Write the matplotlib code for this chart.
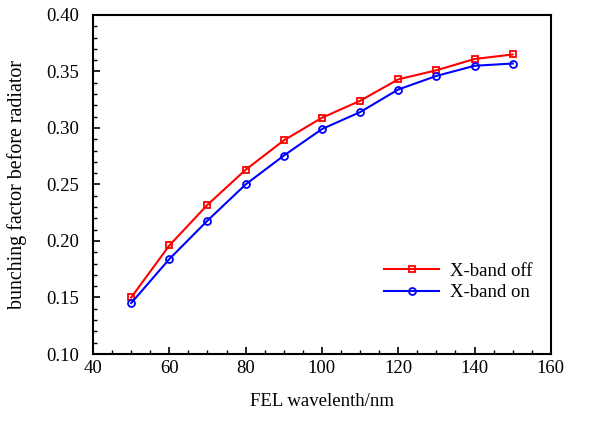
import matplotlib
matplotlib.use('Agg')
import matplotlib.pyplot as plt
from matplotlib.ticker import MultipleLocator

wavelength = [50, 60, 70, 80, 90, 100, 110, 120, 130, 140, 150]
bf_off = [0.150, 0.196, 0.232, 0.263, 0.289, 0.309, 0.324, 0.343, 0.351, 0.361, 0.365]
bf_on = [0.145, 0.184, 0.218, 0.250, 0.2755, 0.299, 0.314, 0.334, 0.346, 0.355, 0.357]

plt.rcParams['font.family'] = ['Liberation Serif', 'DejaVu Serif']
plt.rcParams['font.size'] = 13.5

fig = plt.figure(figsize=(6.04, 4.26), dpi=100)
ax = fig.add_axes([0.154, 0.169, 0.758, 0.796])

ax.plot(wavelength, bf_off, color='red', lw=1.5, marker='s', ms=5,
        mfc='none', mew=1.3, label='X-band off')
ax.plot(wavelength, bf_on, color='blue', lw=1.5, marker='o', ms=5,
        mfc='none', mew=1.3, label='X-band on')

ax.set_xlim(40, 160)
ax.set_ylim(0.10, 0.40)
ax.xaxis.set_major_locator(MultipleLocator(20))
ax.xaxis.set_minor_locator(MultipleLocator(5))
ax.yaxis.set_major_locator(MultipleLocator(0.05))
ax.yaxis.set_minor_locator(MultipleLocator(0.01))
ax.yaxis.set_major_formatter(plt.FormatStrFormatter('%.2f'))
ax.tick_params(which='both', direction='in', top=False, right=False)
ax.tick_params(which='major', length=5, width=1.2)
ax.tick_params(axis='x', which='major', pad=4)
ax.tick_params(axis='y', which='major', pad=10)
ax.tick_params(which='minor', length=3, width=1)
for s in ax.spines.values():
    s.set_linewidth(1.5)

ax.set_xlabel('FEL wavelenth/nm', labelpad=12)
ax.set_ylabel('bunching factor before radiator', fontsize=14.4, labelpad=14)
ax.legend(loc='upper left', bbox_to_anchor=(0.62, 0.292), frameon=False,
          handlelength=2.9, handletextpad=0.6, labelspacing=0.25,
          borderaxespad=0)

fig.savefig('out.png', dpi=100)
